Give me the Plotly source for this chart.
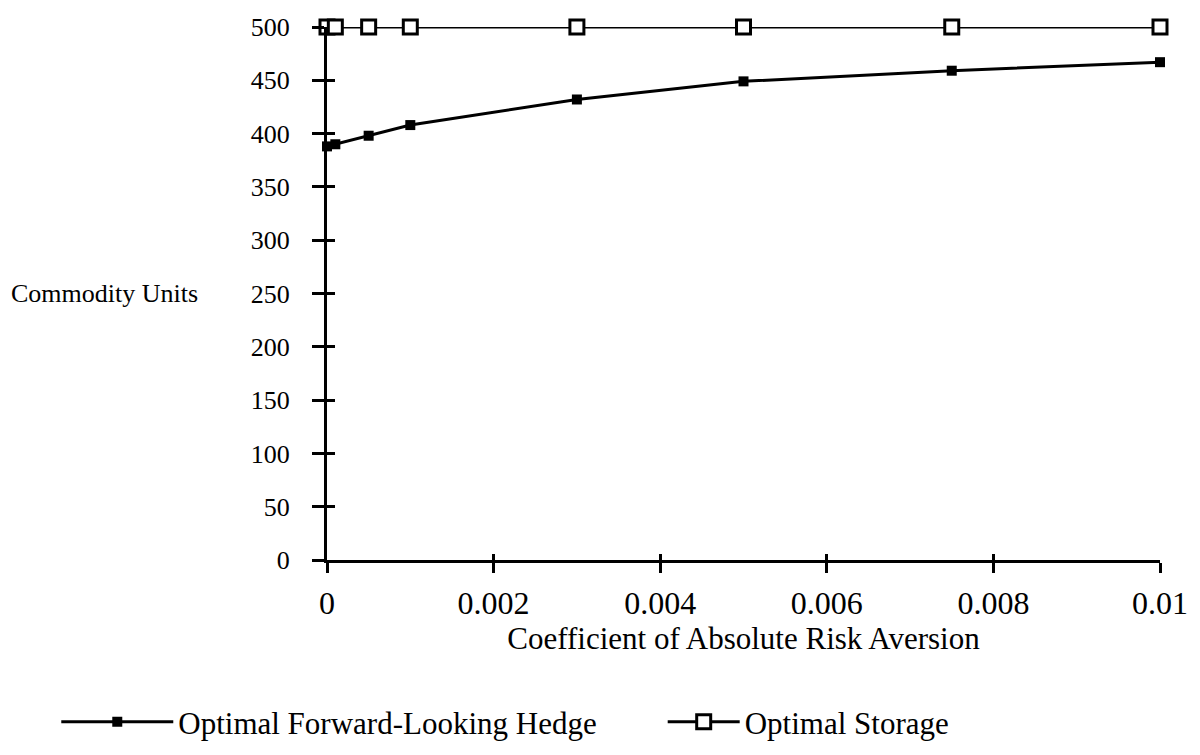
import plotly.graph_objects as go

risk_aversion = [0, 0.0001, 0.0005, 0.001, 0.003, 0.005, 0.0075, 0.01]
hedge = [388, 390, 398, 408, 432, 449, 459, 467]
storage = [500, 500, 500, 500, 500, 500, 500, 500]
y_ticks = [0, 50, 100, 150, 200, 250, 300, 350, 400, 450, 500]
x_ticks = [0, 0.002, 0.004, 0.006, 0.008, 0.01]
x_tick_text = ["0", "0.002", "0.004", "0.006", "0.008", "0.01"]

FONT = "Liberation Serif"

fig = go.Figure()
fig.add_trace(go.Scatter(
    x=risk_aversion, y=hedge, mode="lines+markers",
    name="Optimal Forward-Looking Hedge",
    line=dict(color="black", width=3),
    marker=dict(symbol="square", size=10, color="black"),
    cliponaxis=False, legend="legend",
))
fig.add_trace(go.Scatter(
    x=risk_aversion, y=storage, mode="lines+markers",
    name="Optimal Storage",
    line=dict(color="black", width=3),
    marker=dict(symbol="square", size=14, color="white",
                line=dict(color="black", width=3)),
    cliponaxis=False, legend="legend2",
))
# invisible trace hosting the inner halves of the crossing ticks
fig.add_trace(go.Scatter(x=[0], y=[0], xaxis="x2", yaxis="y2",
                         mode="markers", marker=dict(opacity=0),
                         showlegend=False, hoverinfo="skip"))

legend_common = dict(orientation="h", xanchor="left", y=-0.304,
                     yanchor="middle", font=dict(size=31, family=FONT),
                     bgcolor="rgba(0,0,0,0)")

fig.update_layout(
    width=1200, height=755,
    paper_bgcolor="white", plot_bgcolor="white",
    margin=dict(l=319, r=48, t=19, b=203, autoexpand=False),
    font=dict(family=FONT, size=26, color="black"),
    showlegend=True,
    legend=dict(x=-0.325, itemwidth=112, **legend_common),
    legend2=dict(x=0.403, itemwidth=72, **legend_common),
    xaxis=dict(range=[0, 0.01], tickvals=x_ticks, ticktext=x_tick_text,
               showgrid=False, zeroline=False, showline=True,
               linecolor="black", linewidth=3, ticks="outside",
               ticklen=10, tickwidth=3, tickcolor="black",
               ticklabelstandoff=3, automargin=False,
               tickfont=dict(size=32, family=FONT),
               title=dict(text="Coefficient of Absolute Risk Aversion",
                          font=dict(size=31, family=FONT), standoff=0)),
    yaxis=dict(range=[0, 500], tickvals=y_ticks,
               showgrid=False, zeroline=False, showline=True,
               linecolor="black", linewidth=3, ticks="outside",
               ticklen=12, tickwidth=3, tickcolor="black",
               ticklabelstandoff=17, automargin=False,
               tickfont=dict(size=26, family=FONT)),
    xaxis2=dict(range=[0, 0.01], tickvals=x_ticks, overlaying="x",
                anchor="y2", side="bottom", showticklabels=False,
                showgrid=False, zeroline=False, showline=False,
                automargin=False,
                ticks="inside", ticklen=6, tickwidth=3, tickcolor="black"),
    yaxis2=dict(range=[0, 500], tickvals=y_ticks, overlaying="y",
                anchor="x2", side="left", showticklabels=False,
                showgrid=False, zeroline=False, showline=False,
                automargin=False,
                ticks="inside", ticklen=8, tickwidth=3, tickcolor="black"),
    annotations=[dict(text="Commodity Units", xref="paper", yref="y",
                      x=-0.153, y=250, xanchor="right", yanchor="middle",
                      showarrow=False, font=dict(size=26, family=FONT))],
)

fig.write_html("out.html")
